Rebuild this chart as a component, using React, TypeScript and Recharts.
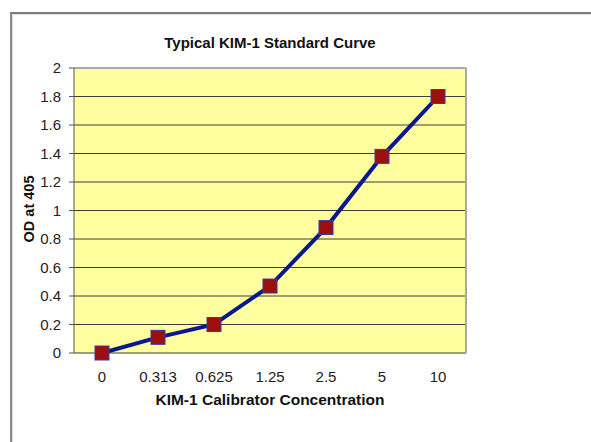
import React from 'react';
import { LineChart, Line, XAxis, YAxis, CartesianGrid, ReferenceLine } from 'recharts';

const concentrations = ['0', '0.313', '0.625', '1.25', '2.5', '5', '10'];
const odValues = [0, 0.11, 0.2, 0.47, 0.88, 1.38, 1.8];
const yTicks = [0, 0.2, 0.4, 0.6, 0.8, 1, 1.2, 1.4, 1.6, 1.8, 2];
const centerTicks = [0, 1, 2, 3, 4, 5, 6];
const edgeTicks = [-0.5, 0.5, 1.5, 2.5, 3.5, 4.5, 5.5, 6.5];

const data = concentrations.map((c, i) => ({ idx: i, label: c, od: odValues[i] }));

const FONT = '"Liberation Sans", Arial, sans-serif';

const SquareDot = (props: any) => {
  const { cx, cy } = props;
  if (cx == null || cy == null) return null;
  return <rect x={cx - 7} y={cy - 7} width={14} height={14} fill="#9c0f0f" stroke="#3a3aa0" strokeWidth={1} />;
};

export default function App() {
  return (
    <div style={{ position: 'absolute', left: 0, top: 0, width: 591, height: 442, background: '#fff', fontFamily: FONT }}>
      {/* outer chart frame */}
      <div style={{ position: 'absolute', left: 10, top: 12, right: 0, bottom: 0, borderLeft: '2px solid #8a8a8a', borderTop: '2px solid #7a7a7a', boxShadow: 'inset 1px 1px 1px #ddd' }} />
      <div style={{ position: 'absolute', left: 0, top: 34, width: 540, textAlign: 'center', fontSize: 15, fontWeight: 'bold', color: '#111' }}>
        Typical KIM-1 Standard Curve
      </div>
      <div style={{ position: 'absolute', left: 74, top: 391, width: 392, textAlign: 'center', fontSize: 15.5, fontWeight: 'bold', color: '#111' }}>
        KIM-1 Calibrator Concentration
      </div>
      <div style={{ position: 'absolute', left: 29, top: 209, transform: 'translate(-50%, -50%) rotate(-90deg)', whiteSpace: 'nowrap', fontSize: 14.5, fontWeight: 'bold', color: '#111' }}>
        OD at 405
      </div>
      <div style={{ position: 'absolute', left: 0, top: 0 }}>
        <LineChart width={591} height={442} data={data} margin={{ top: 68, right: 125, bottom: 59, left: 0 }}>
          <CartesianGrid vertical={false} stroke="#3c3c3c" fill="#ffffa0" fillOpacity={1} />
          <XAxis
            xAxisId="edge"
            dataKey="idx"
            type="number"
            domain={[-0.5, 6.5]}
            ticks={edgeTicks}
            tickFormatter={() => ''}
            tickSize={6}
            stroke="#555"
            height={0}
            allowDataOverflow
          />
          <XAxis
            xAxisId="main"
            dataKey="idx"
            type="number"
            domain={[-0.5, 6.5]}
            ticks={centerTicks}
            tickFormatter={(v: number) => concentrations[v]}
            axisLine={false}
            tickLine={false}
            tickSize={0}
            tickMargin={18}
            height={30}
            tick={{ fontSize: 15, fill: '#222', fontFamily: FONT }}
            allowDataOverflow
          />
          <YAxis
            domain={[0, 2]}
            ticks={yTicks}
            width={74}
            tickSize={5}
            tickMargin={8}
            stroke="#555"
            tick={{ fontSize: 15, fill: '#222', fontFamily: FONT }}
          />
          <ReferenceLine y={2} xAxisId="main" stroke="#a8a8a8" strokeWidth={2} />
          <ReferenceLine x={6.5} xAxisId="main" stroke="#a8a8a8" strokeWidth={2} />
          <Line
            xAxisId="main"
            dataKey="od"
            type="linear"
            stroke="#0a1890"
            strokeWidth={4}
            dot={<SquareDot />}
            activeDot={false}
            isAnimationActive={false}
          />
        </LineChart>
      </div>
    </div>
  );
}
